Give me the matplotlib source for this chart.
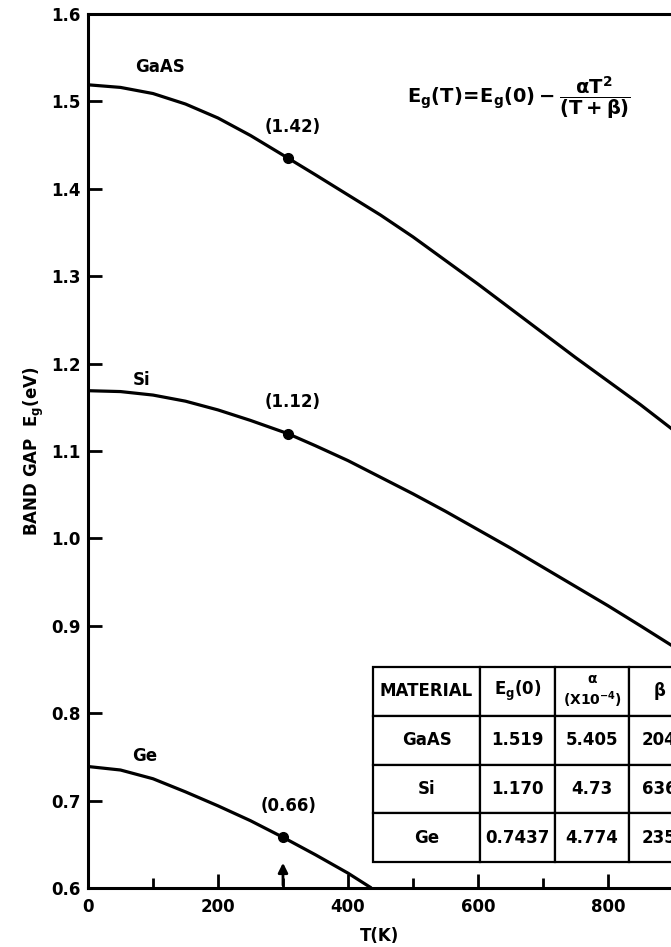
import numpy as np
import matplotlib
matplotlib.use('Agg')
import matplotlib.pyplot as plt
from matplotlib.ticker import MultipleLocator

# values
gaas_T = [0, 50, 100, 150, 200, 250, 308, 350, 400, 450, 500, 550, 600, 650, 700, 750, 800, 850, 897]
gaas_E = [1.519, 1.516, 1.509, 1.497, 1.481, 1.461, 1.435, 1.416, 1.393, 1.370, 1.345, 1.318,
          1.291, 1.263, 1.235, 1.207, 1.180, 1.153, 1.126]
si_T = [0, 50, 100, 150, 200, 250, 307, 350, 400, 450, 500, 550, 600, 650, 700, 750, 800, 850, 897]
si_E = [1.169, 1.168, 1.164, 1.157, 1.147, 1.135, 1.120, 1.106, 1.089, 1.070, 1.051, 1.031,
        1.010, 0.989, 0.967, 0.945, 0.923, 0.900, 0.878]
ge_T = [0, 50, 100, 150, 200, 250, 300, 350, 400, 436]
ge_E = [0.739, 0.735, 0.725, 0.710, 0.694, 0.677, 0.658, 0.638, 0.617, 0.600]

dot_T = [307, 307, 300]
dot_E = [1.435, 1.120, 0.658]
dot_lab = ['(1.42)', '(1.12)', '(0.66)']

names = ['GaAS', 'Si', 'Ge']
tab_head = ['MATERIAL', r'$E_g$(0)', r'$\alpha$' + '\n' + r'(X10$^{-4}$)', r'$\beta$']
tab_rows = [['GaAS', '1.519', '5.405', '204'],
            ['Si', '1.170', '4.73', '636'],
            ['Ge', '0.7437', '4.774', '235']]

plt.rcParams['font.family'] = ['DejaVu Sans']
plt.rcParams['font.weight'] = 'bold'
plt.rcParams['axes.labelweight'] = 'bold'
plt.rcParams['font.size'] = 12
plt.rcParams['mathtext.fontset'] = 'custom'
plt.rcParams['mathtext.rm'] = 'DejaVu Sans:bold'
plt.rcParams['mathtext.it'] = 'DejaVu Sans:bold'
plt.rcParams['mathtext.default'] = 'regular'

fig = plt.figure(figsize=(6.71, 9.47), dpi=100)
ax = fig.add_axes([88/671, 59/947, 583/671, 874/947])

lw = 2.3
ax.plot(gaas_T, gaas_E, color='black', lw=lw)
ax.plot(si_T, si_E, color='black', lw=lw)
ax.plot(ge_T, ge_E, color='black', lw=lw, solid_capstyle='butt')
ax.plot(dot_T, dot_E, 'o', color='black', ms=7)

for t, e, s in zip(dot_T, dot_E, dot_lab):
    ax.text(t + 8, e + 0.036, s, ha='center', va='center', fontsize=12)

ax.text(72, 1.539, names[0], ha='left', va='center', fontsize=12)
ax.text(69, 1.181, names[1], ha='left', va='center', fontsize=12)
ax.text(68, 0.751, names[2], ha='left', va='center', fontsize=12)

ax.text(663, 1.505, r'$E_g(T)\!=\!E_g(0)-\dfrac{\alpha T^2}{(T+\beta)}$',
        ha='center', va='center', fontsize=14)

# arrow at room temperature
ax.annotate('', xy=(300, 0.632), xytext=(300, 0.6),
            arrowprops=dict(arrowstyle='-|>', lw=2, color='black', mutation_scale=14))

ax.set_xlim(0, 897)
ax.set_ylim(0.6, 1.6)
ax.set_xticks([0, 200, 400, 600, 800])
ax.xaxis.set_minor_locator(MultipleLocator(100))
ax.set_yticks(np.arange(0.6, 1.61, 0.1))
ax.set_yticklabels(['0.6', '0.7', '0.8', '0.9', '1.0', '1.1', '1.2', '1.3', '1.4', '1.5', '1.6'])
ax.tick_params(axis='both', which='major', direction='in', length=10, width=2, labelsize=12)
ax.tick_params(axis='x', which='minor', direction='in', length=7, width=2)
ax.tick_params(axis='y', which='major', pad=5)
ax.tick_params(axis='x', which='major', pad=7)
for s in ['left', 'bottom', 'top']:
    ax.spines[s].set_linewidth(2.2)
ax.spines['right'].set_visible(False)

ax.set_ylabel(r'BAND GAP  $E_g$(eV)', fontsize=12, fontweight='bold', labelpad=4)
ax.set_xlabel('T(K)', fontsize=12, fontweight='bold', labelpad=8)

tab = ax.table(cellText=tab_rows, colLabels=tab_head, cellLoc='center',
               colWidths=[107, 75, 74, 60], bbox=[0.489, 0.0297, 0.542, 0.2232])
tab.auto_set_font_size(False)
for (r, c), cell in tab.get_celld().items():
    cell.set_linewidth(1.6)
    cell.get_text().set_fontsize(12)
    cell.get_text().set_fontweight('bold')
tab[0, 2].get_text().set_fontsize(10)

fig.savefig('out.png', dpi=100)
